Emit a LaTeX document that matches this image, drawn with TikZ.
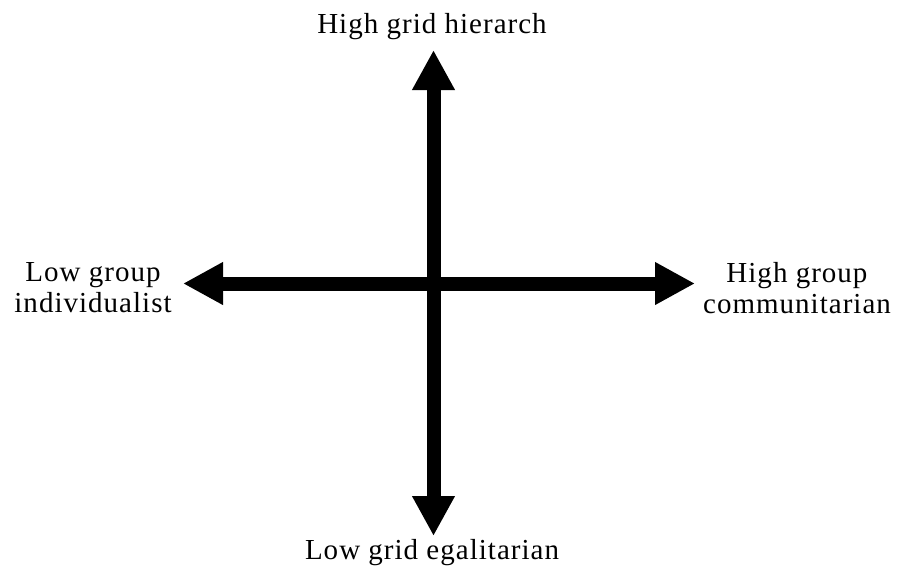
\documentclass[tikz,border=0pt]{standalone}
\usepackage{fontspec}
\setmainfont{Liberation Serif}[LetterSpace=3.5]
\usetikzlibrary{arrows.meta}

\tikzset{
  axis/.style={line width=14pt,{Triangle[width=40pt,length=40pt]}-{Triangle[width=40pt,length=40pt]}},
  pole/.style={font=\fontsize{29}{31}\selectfont,align=center,inner sep=0pt}
}

\begin{document}
\begin{tikzpicture}[x=1pt,y=1pt]
  \useasboundingbox (0,0) rectangle (897,-566);
  \coordinate (O) at (433.5,-283.5);
  \coordinate (N) at (433.5,-50);
  \coordinate (S) at (433.5,-536);
  \coordinate (W) at (183,-283.5);
  \coordinate (E) at (695,-283.5);
  \draw[axis] (S) -- (N);
  \draw[axis] (W) -- (E);
  \node[pole,anchor=base] (hier) at (432,-33) {High grid hierarch};
  \node[pole,anchor=base] (egal) at (432,-559) {Low grid egalitarian};
  \node[pole] (indiv) at (93,-288) {Low group\\individualist};
  \node[pole] (comm) at (797,-288) {High group\\communitarian};
\end{tikzpicture}
\end{document}
